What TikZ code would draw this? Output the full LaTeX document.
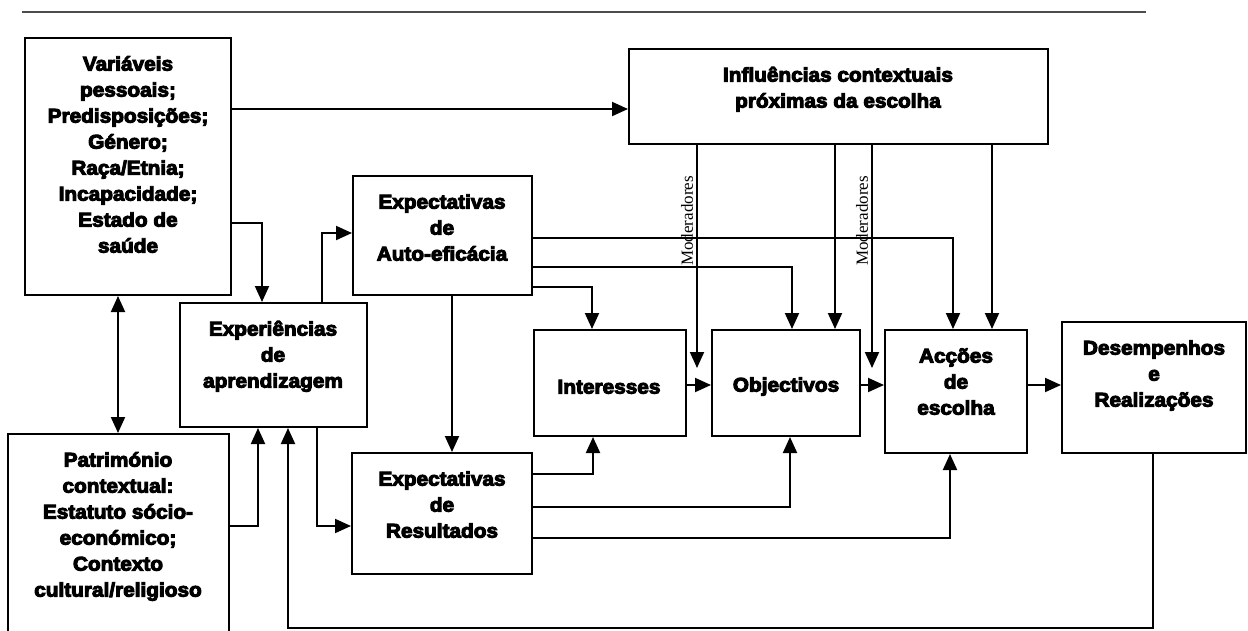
\documentclass[tikz,border=0pt]{standalone}
\usepackage{fontspec}
\usetikzlibrary{arrows.meta}
\newfontfamily\blk{Liberation Sans Bold}[FakeStretch=1.05,FakeBold=5]
\newfontfamily\modfont{Liberation Serif}
\newcommand\ms{\rule[-6.4pt]{0pt}{26pt}}
\tikzset{
  box/.style={draw, line width=2pt, rectangle, inner sep=0pt},
  txt/.style={inner sep=0pt, align=center, font={\blk\fontsize{19.8}{26}\selectfont}},
  arr/.style={line width=2pt, -{Triangle[length=16pt,width=14pt]}},
  darr/.style={line width=2pt, {Triangle[length=16pt,width=14pt]}-{Triangle[length=16pt,width=14pt]}},
  modlbl/.style={rotate=90, inner sep=0pt, font={\modfont\fontsize{17}{20}\selectfont}}
}
\begin{document}
\begin{tikzpicture}[x=1pt,y=-1pt]
\useasboundingbox (0,0) rectangle (1248,630);
\fill[white] (0,0) rectangle (1248,630);
% top rule
\coordinate (rl) at (22,12);
\coordinate (rr) at (1146,12);
\draw[line width=2.5pt, black!70] (rl) -- (rr);

% boxes
\node[box, minimum width=206pt, minimum height=257pt] (var) at (128,166.5) {};
\node[box, minimum width=419pt, minimum height=95pt] (inf) at (838.5,96.5) {};
\node[box, minimum width=179pt, minimum height=119pt] (auto) at (442.5,235.5) {};
\node[box, minimum width=187pt, minimum height=124pt] (exp) at (273.5,365) {};
\node[box, minimum width=221pt, minimum height=216pt] (pat) at (118.5,542) {};
\node[box, minimum width=152pt, minimum height=106pt] (int) at (610,383) {};
\node[box, minimum width=148pt, minimum height=106pt] (obj) at (786,383) {};
\node[box, minimum width=142pt, minimum height=123pt] (acc) at (956,391.5) {};
\node[box, minimum width=184pt, minimum height=131pt] (des) at (1154,387.5) {};
\node[box, minimum width=180pt, minimum height=121pt] (res) at (442,513.5) {};

% texts
\node[txt] (tvar) at (128,155) {\ms Variáveis\\\ms pessoais;\\\ms Predisposições;\\\ms Género;\\\ms Raça/Etnia;\\\ms Incapacidade;\\\ms Estado de\\\ms saúde};
\node[txt] (tinf) at (838,88) {\ms Influências contextuais\\\ms próximas da escolha};
\node[txt] (tauto) at (442,228) {\ms Expectativas\\\ms de\\\ms Auto-eficácia};
\node[txt] (texp) at (273,355) {\ms Experiências\\\ms de\\\ms aprendizagem};
\node[txt] (tpat) at (118,525) {\ms Património\\\ms contextual:\\\ms Estatuto sócio-\\\ms económico;\\\ms Contexto\\\ms cultural/religioso};
\node[txt] (tint) at (609,387) {\ms Interesses};
\node[txt] (tobj) at (786,385) {\ms Objectivos};
\node[txt] (tacc) at (956,382) {\ms Acções\\\ms de\\\ms escolha};
\node[txt] (tdes) at (1154,374) {\ms Desempenhos\\\ms e\\\ms Realizações};
\node[txt] (tres) at (442,505) {\ms Expectativas\\\ms de\\\ms Resultados};

% connectors
\draw[arr] (var.east |- 0,109) -- (inf.west |- 0,109);
\draw[arr] (var.east |- 0,223) -| (262,0 |- exp.north);
\draw[darr] (var.south -| 118,0) -- (pat.north -| 118,0);
\draw[arr] (exp.north -| 322,0) |- (auto.west |- 0,233);
\draw[arr] (pat.east |- 0,526) -| (258,0 |- exp.south);
\draw[arr] (exp.south -| 317,0) |- (res.west |- 0,526);
\draw[arr] (des.south -| 1153,0) -- (1153,628) -| (288,0 |- exp.south);
\draw[arr] (auto.south -| 452,0) -- (res.north -| 452,0);
\draw[arr] (auto.east |- 0,238) -| (953,0 |- acc.north);
\draw[arr] (auto.east |- 0,267) -| (792,0 |- obj.north);
\draw[arr] (auto.east |- 0,287) -| (592,0 |- int.north);
\draw[arr] (int.east |- 0,385) -- (obj.west |- 0,385);
\draw[arr] (obj.east |- 0,385) -- (acc.west |- 0,385);
\draw[arr] (acc.east |- 0,385) -- (des.west |- 0,385);
\draw[arr] (res.east |- 0,474) -| (593,0 |- int.south);
\draw[arr] (res.east |- 0,507) -| (790,0 |- obj.south);
\draw[arr] (res.east |- 0,538) -| (950,0 |- acc.south);
\draw[arr] (inf.south -| 835,0) -- (obj.north -| 835,0);
\draw[arr] (inf.south -| 992,0) -- (acc.north -| 992,0);
\coordinate (m1) at (697,368);
\coordinate (m2) at (872,368);
\draw[arr] (inf.south -| m1) -- (m1);
\draw[arr] (inf.south -| m2) -- (m2);
\node[modlbl] (ml1) at (687,221) {Moderadores};
\node[modlbl] (ml2) at (862,221) {Moderadores};
\end{tikzpicture}
\end{document}
